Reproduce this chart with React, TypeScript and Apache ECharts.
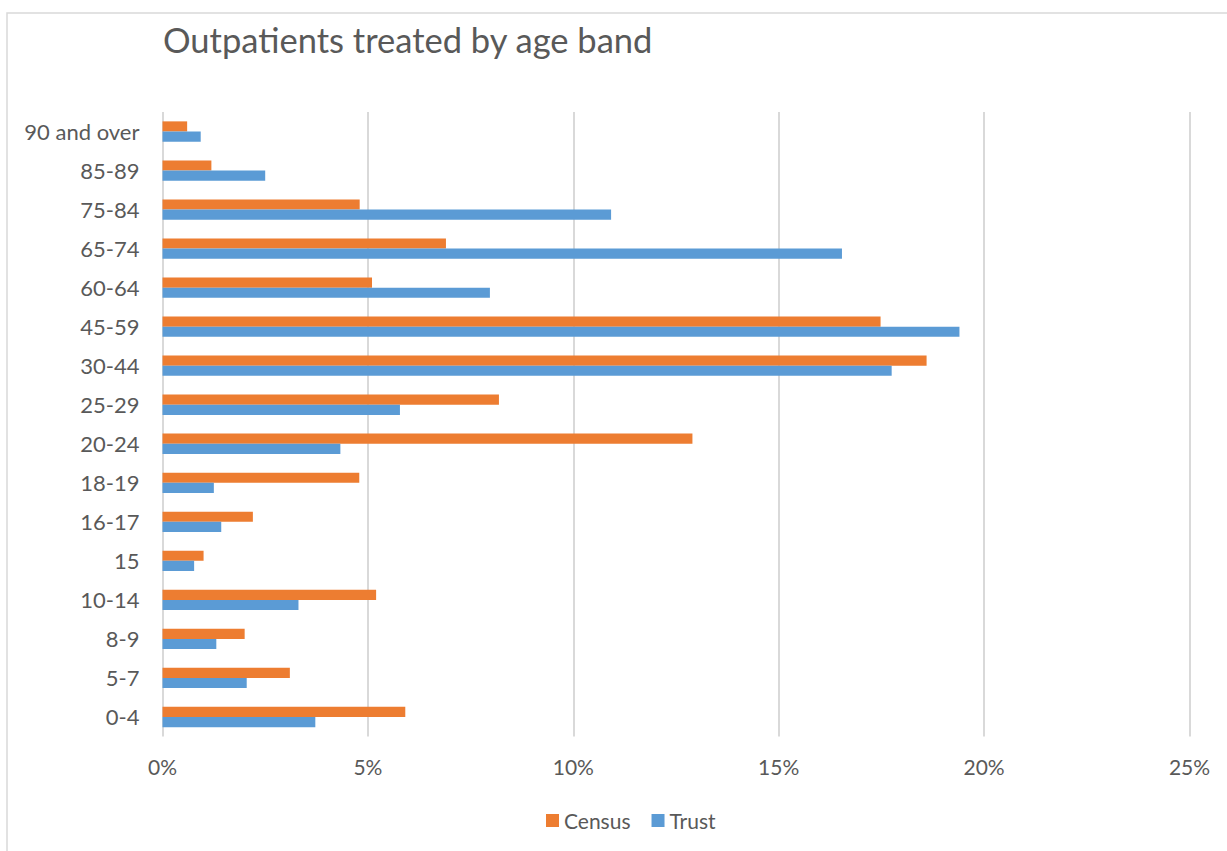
import React, { useEffect, useRef } from "react";
import * as echarts from "echarts";

const categories = [
  "0-4", "5-7", "8-9", "10-14", "15", "16-17", "18-19", "20-24",
  "25-29", "30-44", "45-59", "60-64", "65-74", "75-84", "85-89", "90 and over",
];
const censusValues = [5.91, 3.1, 2.0, 5.2, 1.0, 2.2, 4.79, 12.9, 8.19, 18.6, 17.48, 5.1, 6.9, 4.8, 1.19, 0.6];
const trustValues = [3.72, 2.05, 1.31, 3.31, 0.77, 1.43, 1.25, 4.33, 5.78, 17.75, 19.4, 7.97, 16.54, 10.92, 2.5, 0.93];
const xTicks = { min: 0, max: 25, interval: 5 };

const FONT = "Lato, 'Open Sans', sans-serif";
const TEXT = "#595959";

export default function App() {
  const ref = useRef<HTMLDivElement>(null);
  useEffect(() => {
    if (!ref.current) return;
    const chart = echarts.init(ref.current, null, { renderer: "svg" });
    chart.setOption({
      animation: false,
      backgroundColor: "#ffffff",
      textStyle: { fontFamily: FONT },
      title: {
        text: "Outpatients treated by age band",
        left: 158,
        top: 17,
        textStyle: { fontFamily: FONT, fontSize: 34.5, fontWeight: "normal", color: TEXT },
      },
      graphic: [
        {
          type: "rect",
          shape: { x: 7, y: 13, width: 1260, height: 900 },
          style: { fill: "none", stroke: "#d9d9d9", lineWidth: 1.5 },
          silent: true,
          z: -1,
        },
      ],
      legend: {
        data: ["Census", "Trust"],
        left: 541,
        top: 805,
        itemWidth: 13,
        itemHeight: 13,
        itemGap: 21,
        icon: "rect",
        textStyle: { fontFamily: FONT, fontSize: 21, color: TEXT },
      },
      grid: { left: 162.5, right: 37.5, top: 112, bottom: 114.5, containLabel: false },
      xAxis: {
        type: "value",
        min: xTicks.min,
        max: xTicks.max,
        interval: xTicks.interval,
        axisLine: { show: false },
        axisTick: { show: false },
        axisLabel: { formatter: "{value}%", fontFamily: FONT, fontSize: 21, color: TEXT, margin: 19 },
        splitLine: { show: true, lineStyle: { color: "#d9d9d9", width: 2 } },
      },
      yAxis: {
        type: "category",
        data: categories,
        axisLine: { show: false },
        axisTick: { show: false },
        axisLabel: { fontFamily: FONT, fontSize: 22, color: TEXT, margin: 23 },
        splitLine: { show: false },
      },
      series: [
        {
          name: "Census",
          type: "bar",
          data: censusValues,
          barGap: "0%",
          barCategoryGap: "48%",
          itemStyle: { color: "#ED7D31" },
        },
        {
          name: "Trust",
          type: "bar",
          data: trustValues,
          barGap: "0%",
          barCategoryGap: "48%",
          itemStyle: { color: "#5B9BD5" },
        },
      ],
    });
    return () => chart.dispose();
  }, []);
  return (
    <div
      ref={ref}
      style={{ position: "absolute", left: 0, top: 0, width: 1227, height: 851 }}
    />
  );
}
